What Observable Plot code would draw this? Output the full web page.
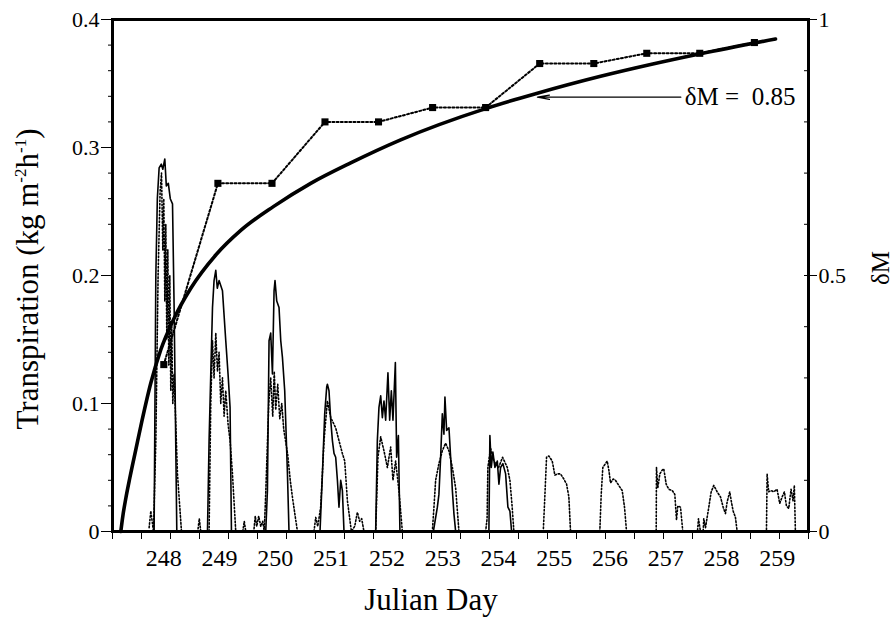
<!DOCTYPE html>
<html>
<head>
<meta charset="utf-8">
<script src="https://cdn.jsdelivr.net/npm/d3@7"></script>
<script src="https://cdn.jsdelivr.net/npm/@observablehq/plot@0.6"></script>
<style>
  html, body { margin: 0; padding: 0; background: #fff; }
  #chart { width: 894px; height: 624px; }
</style>
</head>
<body>
<div id="chart"></div>
<script>
// ---- Data ----
const dayLabels = [248, 249, 250, 251, 252, 253, 254, 255, 256, 257, 258, 259];
const yLeftTicks = [0, 0.1, 0.2, 0.3, 0.4];
const dmTicks = [0, 0.5, 1];

// Transpiration, solid line (day, kg m-2 h-1)
const solidT = [
  [247.826,0],[247.857,0.20],[247.884,0.26],[247.916,0.284],[247.955,0.287],[247.982,0.283],[248.018,0.291],
  [248.045,0.27],[248.081,0.272],[248.116,0.26],[248.156,0.256],[248.185,0.175],[248.233,0],
  [248.783,0],[248.812,0.071],[248.842,0.123],[248.873,0.175],[248.901,0.196],[248.932,0.204],[248.959,0.19],
  [248.991,0.196],[249.052,0.188],[249.111,0.149],[249.152,0.123],[249.188,0.097],[249.213,0],
  [249.828,0],[249.858,0.032],[249.887,0.149],[249.917,0.155],[249.948,0.123],[249.977,0.188],[249.994,0.196],
  [250.025,0.180],[250.066,0.175],[250.097,0.149],[250.127,0.136],[250.168,0.110],[250.217,0.045],[250.245,0],
  [250.801,0],[250.844,0.045],[250.885,0.092],[250.921,0.113],[250.933,0.115],[250.962,0.110],[250.993,0.087],
  [251.023,0.071],[251.052,0.061],[251.082,0.058],[251.113,0.040],[251.141,0.019],[251.172,0.040],[251.202,0.032],[251.231,0],
  [251.799,0],[251.829,0.071],[251.858,0.097],[251.889,0.106],[251.919,0.089],[251.948,0.102],[251.978,0.087],
  [252.019,0.124],[252.050,0.087],[252.080,0.110],[252.109,0.087],[252.152,0.132],[252.175,0.058],[252.206,0.075],[252.234,0],
  [252.833,0],[252.905,0.019],[252.933,0.029],[252.964,0.058],[252.994,0.092],[253.023,0.076],[253.041,0.105],
  [253.071,0.079],[253.113,0.081],[253.143,0.058],[253.174,0.032],[253.202,0.014],[253.233,0],
  [253.829,0],[253.847,0.075],[253.872,0.050],[253.901,0.062],[253.937,0.050],[253.980,0.055],[254.009,0.037],
  [254.039,0.050],[254.080,0.053],[254.129,0.045],[254.170,0.019],[254.206,0.016],[254.236,0]
];

// Transpiration, dotted line (day, kg m-2 h-1)
const dottedT = [
  [247.737,0.003],[247.767,0.016],[247.815,0],[247.857,0.071],[247.898,0.201],[247.934,0.266],[247.959,0.280],
  [247.982,0.22],[248.000,0.26],[248.018,0.18],[248.036,0.24],[248.054,0.15],[248.072,0.22],[248.090,0.13],
  [248.108,0.20],[248.125,0.11],[248.143,0.16],[248.161,0.10],[248.185,0.123],[248.245,0.045],[248.317,0],
  [248.609,0],[248.636,0.01],[248.663,0],
  [248.812,0],[248.842,0.10],[248.873,0.149],[248.901,0.12],[248.932,0.155],[248.962,0.125],[248.991,0.14],
  [249.021,0.10],[249.052,0.12],[249.081,0.09],[249.111,0.11],[249.152,0.084],[249.188,0.071],[249.231,0.045],[249.290,0],
  [249.416,0],[249.443,0.008],[249.469,0],
  [249.613,0],[249.640,0.012],[249.666,0.004],[249.702,0.012],[249.738,0.004],[249.774,0.008],[249.801,0],
  [249.828,0.03],[249.882,0.10],[249.917,0.12],[249.953,0.09],[249.980,0.125],[250.007,0.095],[250.043,0.115],
  [250.079,0.088],[250.115,0.10],[250.150,0.08],[250.186,0.07],[250.222,0.06],[250.267,0.04],[250.312,0.025],[250.396,0],
  [250.693,0],[250.724,0.011],[250.760,0.004],[250.813,0.019],[250.873,0.071],[250.933,0.102],[250.993,0.089],
  [251.082,0.081],[251.141,0.071],[251.202,0.061],[251.244,0.055],[251.292,0.024],[251.364,0],
  [251.423,0.004],[251.471,0.015],[251.512,0.008],[251.548,0.010],[251.589,0],
  [251.799,0],[251.840,0.058],[251.889,0.074],[251.948,0.063],[252.009,0.050],[252.068,0.066],[252.109,0.040],
  [252.157,0.055],[252.216,0.032],[252.277,0],
  [252.815,0],[252.844,0.019],[252.874,0.040],[252.933,0.053],[252.994,0.063],[253.053,0.069],[253.113,0.063],
  [253.174,0.050],[253.233,0.034],[253.292,0],
  [253.770,0],[253.797,0.01],[253.811,0.050],[253.859,0.065],[253.919,0.055],[254.003,0.05],[254.075,0.058],
  [254.159,0.050],[254.206,0.040],[254.245,0.02],[254.277,0],
  [254.804,0],[254.827,0.022],[254.863,0.058],[254.904,0.059],[254.935,0.057],[254.965,0.055],[255.012,0.044],
  [255.055,0.045],[255.114,0.045],[255.173,0.041],[255.222,0.037],[255.263,0.027],[255.293,0],
  [255.818,0],[255.843,0.029],[255.872,0.050],[255.903,0.052],[255.951,0.055],[255.980,0.048],[256.010,0.038],
  [256.058,0.041],[256.099,0.040],[256.158,0.036],[256.219,0.032],[256.261,0.019],[256.297,0],
  [256.829,0],[256.834,0.050],[256.858,0.034],[256.894,0.045],[256.937,0.048],[256.965,0.049],[257.008,0.037],
  [257.055,0.033],[257.116,0.032],[257.163,0.029],[257.193,0.009],[257.216,0.020],[257.265,0.019],[257.306,0],
  [257.569,0],[257.587,0.01],[257.623,0],[257.671,0],[257.682,0.010],[257.713,0.003],[257.772,0.019],[257.815,0.031],
  [257.862,0.036],[257.922,0.031],[257.982,0.027],[258.030,0.019],[258.071,0.014],[258.101,0.023],[258.148,0.031],
  [258.178,0.023],[258.209,0.016],[258.250,0.011],[258.281,0],
  [258.806,0],[258.818,0.045],[258.846,0.031],[258.889,0.032],[258.935,0.031],[258.996,0.033],[259.044,0.022],
  [259.087,0.027],[259.128,0.031],[259.164,0.020],[259.206,0.018],[259.247,0.033],[259.283,0.024],[259.306,0.036],[259.325,0]
];

// δM measured (day, δM)
const dmObs = [
  [248.00,0.326],[248.97,0.68],[249.94,0.68],[250.89,0.80],[251.85,0.80],[252.82,0.828],
  [253.77,0.828],[254.74,0.914],[255.71,0.914],[256.66,0.934],[257.61,0.934],[258.59,0.955]
];

// δM fitted curve (day, δM)
const dmFit = [
  [247.229,0],[247.265,0.03],[247.319,0.065],[247.391,0.105],[247.498,0.16],[247.606,0.215],[247.767,0.29],
  [247.946,0.355],[248.179,0.415],[248.484,0.475],[248.932,0.54],[249.380,0.588],[249.971,0.635],[250.634,0.68],
  [251.351,0.72],[252.247,0.765],[253.771,0.826],[254.667,0.855],[255.832,0.889],[256.728,0.912],
  [257.624,0.933],[258.968,0.962]
];

// annotation
const annotValue = 0.85;
const annotArrowFrom = 257.27;
const annotArrowTo = 254.70;

// ---- Chart ----
const FONT = "Liberation Serif, DejaVu Serif, serif";
const xDomain = [247.08, 259.56];
const dmScale = 0.4; // δM 1 == transpiration 0.4
const xTicks = d3.range(25).map(i => xDomain[0] + i * (xDomain[1] - xDomain[0]) / 24);
const yMinor = d3.range(0, 21).map(i => i * 0.02);
const dmMinor = d3.range(0, 11).map(i => i * 0.1 * dmScale);

const annot = [{from: annotArrowFrom, to: annotArrowTo, v: annotValue}];

const svg = Plot.plot({
  width: 894,
  height: 624,
  marginLeft: 112,
  marginRight: 86,
  marginTop: 19,
  marginBottom: 93,
  style: {background: "#fff", color: "#000"},
  x: {domain: xDomain},
  y: {domain: [0, 0.4]},
  marks: [
    Plot.line(dottedT, {x: d => d[0], y: d => d[1], stroke: "#000", strokeWidth: 1.6, strokeDasharray: "1.5,2"}),
    Plot.line(solidT, {x: d => d[0], y: d => d[1], stroke: "#000", strokeWidth: 1.6}),
    Plot.line(dmFit, {x: d => d[0], y: d => d[1] * dmScale, stroke: "#000", strokeWidth: 3.6, curve: "monotone-x"}),
    Plot.line(dmObs, {x: d => d[0], y: d => d[1] * dmScale, stroke: "#000", strokeWidth: 2, strokeDasharray: "2,2.2"}),
    Plot.dot(dmObs, {x: d => d[0], y: d => d[1] * dmScale, symbol: "square", fill: "#000", r: 4}),
    Plot.arrow(annot, {x1: "from", x2: "to", y1: d => d.v * dmScale * 0.998, y2: d => d.v * dmScale * 0.998,
      stroke: "#000", strokeWidth: 1.3, headLength: 14, headAngle: 20}),
    Plot.text(annot, {x: "from", y: d => d.v * dmScale * 0.998, text: d => `δM =\u00a0 ${d.v}`, textAnchor: "start",
      dx: 4, fontSize: 25, fill: "#000", fontFamily: FONT}),
    // axes
    Plot.axisY({ticks: yLeftTicks, tickSize: 11, tickPadding: 2, fontSize: 22, fontFamily: FONT, label: null,
      tickFormat: d => d === 0 ? "0" : d.toFixed(1)}),
    Plot.axisY({ticks: yMinor, tickSize: 4, tickFormat: () => "", label: null}),
    Plot.axisY({anchor: "right", ticks: dmTicks.map(v => v * dmScale), tickSize: 8, tickPadding: 2, fontSize: 22, fontFamily: FONT, label: null,
      tickFormat: d => d3.format("~g")(d / dmScale)}),
    Plot.axisY({anchor: "right", ticks: dmMinor, tickSize: -5, tickFormat: () => "", label: null}),
    Plot.axisX({ticks: dayLabels, tickSize: 0, tickPadding: 17, fontSize: 24, fontFamily: FONT, label: null, tickFormat: d => String(d)}),
    Plot.axisX({ticks: xTicks, tickSize: 8, tickFormat: () => "", label: null}),
    Plot.frame({stroke: "#000", strokeWidth: 3})
  ]
});

const s = d3.select(svg);
s.attr("font-family", FONT);

// Left axis title with superscripts
const yt = s.append("text")
  .attr("transform", "translate(38,279) rotate(-90)")
  .attr("text-anchor", "middle")
  .attr("font-family", FONT)
  .attr("font-size", 31)
  .attr("fill", "#000");
yt.append("tspan").text("Transpiration (kg m");
yt.append("tspan").attr("font-size", 17).attr("dy", -12).text("-2");
yt.append("tspan").attr("dy", 12).text("h");
yt.append("tspan").attr("font-size", 17).attr("dy", -12).text("-1");
yt.append("tspan").attr("dy", 12).text(")");

// Bottom axis title
s.append("text")
  .attr("x", 431).attr("y", 610)
  .attr("text-anchor", "middle")
  .attr("font-family", FONT)
  .attr("font-size", 31)
  .attr("fill", "#000")
  .text("Julian Day");

// Right axis title
s.append("text")
  .attr("transform", "translate(889,268) rotate(-90)")
  .attr("text-anchor", "middle")
  .attr("font-family", FONT)
  .attr("font-size", 25)
  .attr("fill", "#000")
  .text("δM");

document.getElementById("chart").appendChild(svg);
</script>
</body>
</html>
